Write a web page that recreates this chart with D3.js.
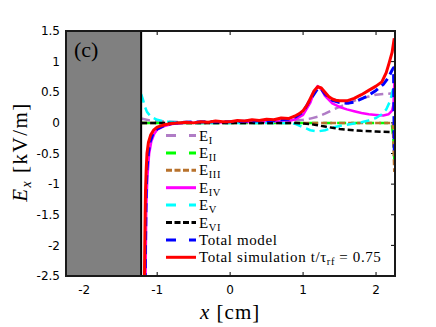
<!DOCTYPE html>
<html>
<head>
<meta charset="utf-8">
<script src="https://cdn.jsdelivr.net/npm/d3@7"></script>
<style>
  body { margin: 0; background: #fff; }
  svg text { fill: #000; }
</style>
</head>
<body>
<div id="chart"></div>
<script>
// data (x in cm, Ex in kV/m)
const xTicks = [-2, -1, 0, 1, 2];
const yTicks = [-2.5, -2, -1.5, -1, -0.5, 0, 0.5, 1, 1.5];
const wallEdge = -1.22;

const eI = [[-1.22,0.07],[-1.1,0.04],[-0.9,0.02],[-0.5,0.01],[0,0.01],[0.5,0.02],[0.8,0.03],[0.9,0.04],[1.0,0.05],[1.1,0.07],[1.2,0.1],[1.3,0.15],[1.4,0.21],[1.5,0.26],[1.6,0.31],[1.7,0.36],[1.8,0.4],[1.9,0.43],[2.0,0.46],[2.1,0.47],[2.2,0.48],[2.25,0.48]];
const eII = [[-1.22,0],[0,0],[1.0,0],[2.2,0],[2.22,-0.05],[2.24,-0.3],[2.25,-0.6]];
const eIII = [[-1.22,0],[0,0],[1.0,0],[2.23,0],[2.25,-0.8]];
const eIV = [[-1.16,-2.6],[-1.155,-2.0],[-1.15,-1.4],[-1.135,-0.9],[-1.11,-0.5],[-1.08,-0.3],[-1.04,-0.18],[-1.0,-0.11],[-0.9,-0.05],[-0.8,-0.02],[-0.6,0],[0,0.01],[0.5,0.02],[0.8,0.03],[0.9,0.06],[1.0,0.13],[1.1,0.33],[1.15,0.5],[1.2,0.6],[1.25,0.55],[1.3,0.44],[1.4,0.32],[1.5,0.26],[1.6,0.22],[1.7,0.19],[1.8,0.16],[1.9,0.14],[2.0,0.13],[2.1,0.12],[2.17,0.14],[2.22,0.2],[2.24,0.3],[2.25,0.65]];
const eV = [[-1.22,0.47],[-1.2,0.4],[-1.17,0.27],[-1.14,0.18],[-1.1,0.12],[-1.05,0.08],[-1.0,0.05],[-0.9,0.02],[-0.5,0.0],[0.5,0.0],[0.8,0.0],[0.9,-0.02],[1.0,-0.07],[1.1,-0.12],[1.2,-0.14],[1.3,-0.12],[1.4,-0.08],[1.5,-0.05],[1.6,-0.03],[1.7,-0.01],[1.8,0.01],[1.9,0.04],[2.0,0.08],[2.08,0.14],[2.14,0.22],[2.19,0.35],[2.22,0.48],[2.24,0.6]];
const eVI = [[-1.22,0],[0,0],[0.8,0],[1.0,-0.01],[1.1,-0.02],[1.2,-0.04],[1.3,-0.06],[1.4,-0.08],[1.5,-0.1],[1.6,-0.11],[1.7,-0.12],[1.8,-0.13],[2.0,-0.14],[2.2,-0.15],[2.25,-0.15]];
const totalModel = [[-1.165,-2.6],[-1.16,-2.0],[-1.155,-1.5],[-1.15,-1.1],[-1.14,-0.75],[-1.12,-0.48],[-1.1,-0.32],[-1.06,-0.18],[-1.0,-0.1],[-0.9,-0.04],[-0.8,-0.01],[-0.6,0.01],[-0.3,0.02],[0,0.02],[0.3,0.03],[0.6,0.04],[0.8,0.06],[0.9,0.1],[1.0,0.18],[1.1,0.38],[1.2,0.56],[1.25,0.55],[1.3,0.47],[1.4,0.37],[1.5,0.33],[1.6,0.32],[1.7,0.34],[1.8,0.39],[1.9,0.45],[2.0,0.53],[2.1,0.63],[2.17,0.74],[2.22,0.86],[2.24,0.9],[2.25,-0.45]];
const totalSim = [[-1.175,-2.6],[-1.17,-2.0],[-1.165,-1.5],[-1.16,-1.1],[-1.15,-0.75],[-1.14,-0.5],[-1.12,-0.32],[-1.09,-0.2],[-1.05,-0.12],[-1.0,-0.07],[-0.9,-0.03],[-0.8,-0.01],[-0.7,0.0],[-0.6,0.01],[-0.5,0.0],[-0.4,0.02],[-0.3,0.01],[-0.2,0.03],[-0.1,0.02],[0.0,0.02],[0.1,0.04],[0.2,0.03],[0.3,0.05],[0.4,0.04],[0.5,0.06],[0.6,0.05],[0.7,0.08],[0.8,0.07],[0.9,0.12],[0.95,0.15],[1.0,0.2],[1.05,0.28],[1.1,0.4],[1.15,0.52],[1.2,0.59],[1.25,0.57],[1.3,0.5],[1.35,0.43],[1.4,0.39],[1.45,0.37],[1.5,0.36],[1.6,0.36],[1.7,0.4],[1.8,0.46],[1.9,0.53],[2.0,0.6],[2.08,0.67],[2.14,0.82],[2.18,0.98],[2.22,1.15],[2.25,1.38]];

const series = [
    { label: "E", sub: "I",   data: eI,   color: "#b07cc6", width: 2.5, dash: "9,5", legDash: "10,13" },
    { label: "E", sub: "II",  data: eII,  color: "#00ff00", width: 2.5, dash: "9,5", legDash: "10,13" },
    { label: "E", sub: "III", data: eIII, color: "#b8722c", width: 2.5, dash: "6,3", legDash: "6,2.5" },
    { label: "E", sub: "IV",  data: eIV,  color: "#ff00ff", width: 2.5, dash: null,  legDash: null },
    { label: "E", sub: "V",   data: eV,   color: "#00ffff", width: 2.5, dash: "9,5", legDash: "10,13" },
    { label: "E", sub: "VI",  data: eVI,  color: "#000000", width: 2.5, dash: "6,3", legDash: "6,2.5" },
    { label: "Total model", sub: null, data: totalModel, color: "#0000ff", width: 3, dash: "9,5", legDash: "10,13" },
    { label: "Total simulation t/τ", sub: "rf", after: " = 0.75", data: totalSim, color: "#ff0000", width: 3, dash: null, legDash: null }
];

const width = 436;
const height = 327;
const margin = { left: 66, right: 41, top: 31, bottom: 51 };
const innerW = width - margin.left - margin.right;
const innerH = height - margin.top - margin.bottom;

const x = d3.scaleLinear().domain([-2.25, 2.26]).range([0, innerW]);
const y = d3.scaleLinear().domain([-2.5, 1.5]).range([innerH, 0]);

const svg = d3.select("#chart").append("svg")
    .attr("width", width).attr("height", height);

svg.append("defs").append("clipPath").attr("id", "clip")
    .append("rect").attr("width", innerW).attr("height", innerH);

const g = svg.append("g").attr("transform", `translate(${margin.left},${margin.top})`);

// ticks (inside), all four sides
const tickLen = 4;
const ticks = g.append("g").attr("stroke", "#000").attr("stroke-width", 1);
xTicks.forEach(t => {
    ticks.append("line").attr("x1", x(t)).attr("x2", x(t)).attr("y1", innerH).attr("y2", innerH - tickLen);
    ticks.append("line").attr("x1", x(t)).attr("x2", x(t)).attr("y1", 0).attr("y2", tickLen);
});
yTicks.forEach(t => {
    ticks.append("line").attr("x1", 0).attr("x2", tickLen).attr("y1", y(t)).attr("y2", y(t));
    ticks.append("line").attr("x1", innerW).attr("x2", innerW - tickLen).attr("y1", y(t)).attr("y2", y(t));
});

// curves
const line = d3.line().x(d => x(d[0])).y(d => y(d[1]));
const curves = g.append("g").attr("clip-path", "url(#clip)");
series.forEach(s => {
    curves.append("path")
        .datum(s.data)
        .attr("d", line)
        .attr("fill", "none")
        .attr("stroke", s.color)
        .attr("stroke-width", s.width)
        .attr("stroke-dasharray", s.dash)
        .attr("stroke-linejoin", "round");
});

// grey wall
g.append("rect")
    .attr("x", 0).attr("y", 0)
    .attr("width", x(wallEdge)).attr("height", innerH)
    .attr("fill", "#808080")
    .attr("stroke", "#000").attr("stroke-width", 2);

// frame
g.append("rect")
    .attr("width", innerW).attr("height", innerH)
    .attr("fill", "none").attr("stroke", "#1a1a1a").attr("stroke-width", 2);

// tick labels
g.selectAll(".xl").data(xTicks).enter().append("text")
    .attr("x", d => x(d)).attr("y", innerH + 18)
    .attr("text-anchor", "middle")
    .style("font", "12px 'DejaVu Sans'")
    .text(d => d);
g.selectAll(".yl").data(yTicks).enter().append("text")
    .attr("x", -6).attr("y", d => y(d)).attr("dy", "0.35em")
    .attr("text-anchor", "end")
    .style("font", "12px 'DejaVu Sans'")
    .text(d => d);

// panel tag
g.append("text").attr("x", 8).attr("y", 26)
    .style("font", "22px 'Liberation Serif'")
    .text("(c)");

// axis titles
const xt = svg.append("text")
    .attr("x", margin.left + x(0)).attr("y", 319)
    .attr("text-anchor", "middle")
    .style("font", "21px 'Liberation Serif'")
    .style("letter-spacing", "1px");
xt.append("tspan").style("font-style", "italic").text("x");
xt.append("tspan").text("  [cm]");

const yt = svg.append("text")
    .attr("transform", "translate(27,152) rotate(-90)")
    .attr("text-anchor", "middle")
    .style("font", "21px 'Liberation Serif'")
    .style("letter-spacing", "1.5px");
yt.append("tspan").style("font-style", "italic").text("E");
yt.append("tspan").style("font-style", "italic").style("font-size", "14px").attr("dy", 4).text("x");
yt.append("tspan").attr("dy", -4).text("  [kV/m]");

// legend
const leg = svg.append("g");
series.forEach((s, i) => {
    const ly = 135.5 + i * 17.4;
    leg.append("line")
        .attr("x1", 166).attr("x2", 196).attr("y1", ly).attr("y2", ly)
        .attr("stroke", s.color).attr("stroke-width", 3)
        .attr("stroke-dasharray", s.legDash);
    const t = leg.append("text")
        .attr("x", 199).attr("y", ly + 5)
        .style("font", "15px 'Liberation Serif'")
        .style("letter-spacing", "0.6px");
    t.append("tspan").text(s.label);
    if (s.sub) {
        t.append("tspan").style("font-size", "10.5px").attr("dy", 3).text(s.sub);
        if (s.after) t.append("tspan").attr("dy", -3).text(s.after);
    }
});
</script>
</body>
</html>
